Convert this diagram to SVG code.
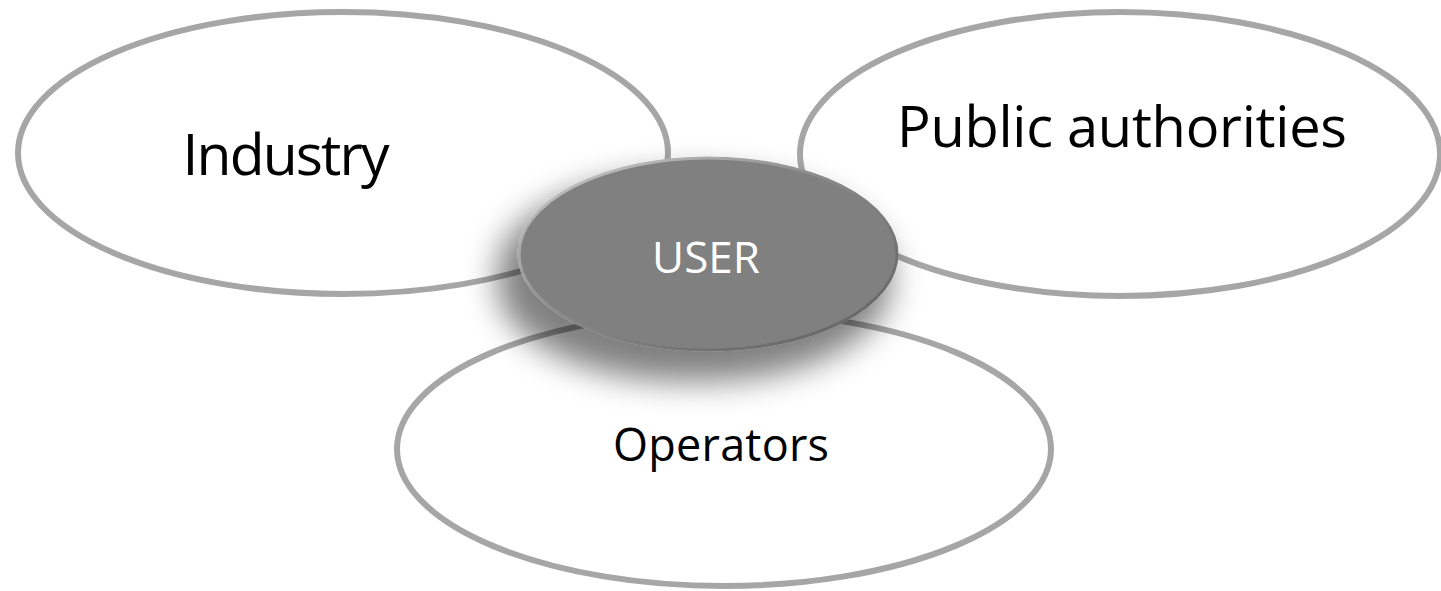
<svg xmlns="http://www.w3.org/2000/svg" width="1441" height="591" viewBox="0 0 1441 591">
<style>
.outer{fill:#ffffff;stroke:#a6a6a6;stroke-width:6}
.lbl{font-family:"Open Sans","Liberation Sans",sans-serif;fill:#000000;text-anchor:middle}
.user{font-family:"Open Sans","Liberation Sans",sans-serif;fill:#ffffff;text-anchor:middle}
</style>
<defs>
<filter id="shadow" x="-40%" y="-50%" width="180%" height="220%">
<feMorphology in="SourceAlpha" operator="dilate" radius="6" result="d"/>
<feGaussianBlur in="d" stdDeviation="16" result="b"/>
<feOffset in="b" dx="-14" dy="24" result="o"/>
<feComponentTransfer in="o" result="s"><feFuncA type="linear" slope="0.5"/></feComponentTransfer>
<feMerge><feMergeNode in="s"/><feMergeNode in="SourceGraphic"/></feMerge>
</filter>
<linearGradient id="rim" x1="0" y1="0" x2="1" y2="1">
<stop offset="0" stop-color="#d0d0d0"/>
<stop offset="0.45" stop-color="#8a8a8a"/>
<stop offset="1" stop-color="#5e5e5e"/>
</linearGradient>
</defs>
<g id="industry">
<ellipse class="outer" cx="343" cy="153" rx="325" ry="141"/>
<text class="lbl" x="286" y="175" font-size="57" textLength="207">Industry</text>
</g>
<g id="public-authorities">
<ellipse class="outer" cx="1120" cy="154" rx="320" ry="142"/>
<text class="lbl" x="1122" y="147" font-size="56" textLength="450">Public authorities</text>
</g>
<g id="operators">
<ellipse class="outer" cx="724" cy="449" rx="327" ry="137"/>
<text class="lbl" x="721" y="461" font-size="45" textLength="216">Operators</text>
</g>
<g id="connectors"></g>
<g id="user">
<ellipse cx="708" cy="254" rx="189" ry="96" fill="#808080" stroke="url(#rim)" stroke-width="3" filter="url(#shadow)"/>
<text class="user" x="706" y="273" font-size="44" textLength="108">USER</text>
</g>
</svg>
